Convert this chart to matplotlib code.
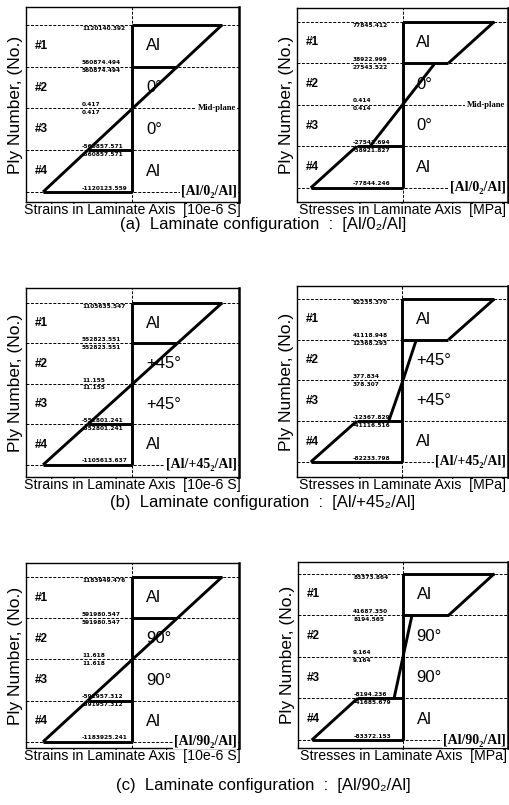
import matplotlib
matplotlib.use('Agg')
import matplotlib.pyplot as plt

plt.rcParams['font.family'] = ['Liberation Sans', 'DejaVu Sans']

# ---------------- data ----------------
ply_names = ['#1', '#2', '#3', '#4']
ply_bottom = [3, 2, 1, 0]          # ply #1 is on top

mats_a = ['Al', '0°', '0°', 'Al']
mats_b = ['Al', '+45°', '+45°', 'Al']
mats_c = ['Al', '90°', '90°', 'Al']

stack_a = '[Al/0₂/Al]'
stack_b = '[Al/+45₂/Al]'
stack_c = '[Al/90₂/Al]'

captions = ['(a)  Laminate configuration  :  [Al/0₂/Al]',
            '(b)  Laminate configuration  :  [Al/+45₂/Al]',
            '(c)  Laminate configuration  :  [Al/90₂/Al]']

# per ply (#1..#4): value at top / bottom of the ply
strain_a_top = [1120140.392, 560874.494, 0.417, -560857.571]
strain_a_bot = [560874.494, 0.417, -560857.571, -1120123.559]
stress_a_top = [77845.412, 27543.522, 0.414, -38921.827]
stress_a_bot = [38922.999, 0.414, -27542.694, -77844.246]

strain_b_top = [1105635.547, 552823.551, 11.155, -552801.241]
strain_b_bot = [552823.551, 11.155, -552801.241, -1105613.637]
stress_b_top = [82235.370, 12368.293, 378.307, -41116.516]
stress_b_bot = [41118.948, 377.834, -12367.829, -82233.798]

strain_c_top = [1183949.476, 591980.547, 11.618, -591957.312]
strain_c_bot = [591980.547, 11.618, -591957.312, -1183925.241]
stress_c_top = [83373.864, 8194.565, 9.164, -41685.679]
stress_c_bot = [41687.350, 9.164, -8194.236, -83372.153]

strain_label = 'Strains in Laminate Axis  [10e-6 S]'
stress_label = 'Stresses in Laminate Axis  [MPa]'
ylabel = 'Ply Number, (No.)'

# ---------------- figure ----------------
W, H = 510, 805
fig = plt.figure(figsize=(W / 100, H / 100), dpi=100)


def px_axes(x0, x1, y0, y1):
    return fig.add_axes([x0 / W, 1 - y1 / H, (x1 - x0) / W, (y1 - y0) / H])


SERIF = ['Liberation Serif', 'DejaVu Serif']


def panel(ax, top, bot, mats, stack, xlab, xfac, ylim, midplane):
    vmax = max(abs(v) for v in top + bot)
    ax.set_xlim(-vmax * xfac, vmax * xfac)
    ax.set_ylim(*ylim)
    ax.set_xticks([])
    ax.set_yticks([])
    for s in ax.spines.values():
        s.set_linewidth(1.0)
    ax.spines['right'].set_linewidth(1.8)

    dash = (0, (3, 1.6))
    for yb in [0, 1, 2, 3, 4]:
        ax.axhline(yb, color='k', lw=0.7, ls=dash, zorder=1)
    ax.axvline(0, color='k', lw=0.7, ls=dash, zorder=1)

    lw = 2.1
    for i in range(4):
        lo = ply_bottom[i]
        hi = lo + 1
        ax.plot([bot[i], top[i]], [lo, hi], color='k', lw=lw, zorder=3,
                solid_capstyle='butt')
        if mats[i] == 'Al':
            ax.plot([0, top[i]], [hi, hi], color='k', lw=lw, zorder=3,
                    solid_capstyle='butt')
            ax.plot([0, bot[i]], [lo, lo], color='k', lw=lw, zorder=3,
                    solid_capstyle='butt')
        # ply name
        ax.text(0.04, lo + 0.5, ply_names[i], transform=ax.get_yaxis_transform(),
                ha='left', va='center', fontsize=8.5, fontweight='bold', zorder=4)
        # material / orientation
        ax.text(0.565, lo + 0.5, mats[i], transform=ax.get_yaxis_transform(),
                ha='left', va='center', fontsize=12, zorder=4)
        # value labels
        ax.annotate(f'{top[i]:.3f}', xy=(0.263, hi), xycoords=('axes fraction', 'data'),
                    xytext=(0, -1.0), textcoords='offset points', ha='left', va='top',
                    fontsize=4.2, fontweight='bold', family='DejaVu Sans', zorder=2)
        ax.annotate(f'{bot[i]:.3f}', xy=(0.263, lo), xycoords=('axes fraction', 'data'),
                    xytext=(0, 1.0), textcoords='offset points', ha='left', va='bottom',
                    fontsize=4.2, fontweight='bold', family='DejaVu Sans', zorder=2)
    ax.plot([0, 0], [0, 4], color='k', lw=lw, zorder=3, solid_capstyle='butt')

    ax.text(0.99, 0, stack, transform=ax.get_yaxis_transform(), ha='right',
            va='center', fontsize=10, fontweight='bold', family=SERIF, zorder=5,
            bbox=dict(boxstyle='square,pad=0.08', fc='white', ec='none'))
    if midplane:
        ax.text(0.985, 2, 'Mid-plane', transform=ax.get_yaxis_transform(), ha='right',
                va='center', fontsize=6.2, fontweight='bold', family=SERIF, zorder=5,
                bbox=dict(boxstyle='square,pad=0.15', fc='white', ec='none'))

    ax.set_ylabel(ylabel, fontsize=12.5)
    ax.yaxis.set_label_coords(-0.012, 0.5)
    ax.text(0.5, -0.006, xlab, transform=ax.transAxes, ha='center', va='top',
            fontsize=10.2)


rows = [
    (strain_a_top, strain_a_bot, stress_a_top, stress_a_bot, mats_a, stack_a,
     (26, 239, 7, 202), (297, 508, 8, 202), (-0.24, 4.43), (-0.34, 4.33), True, 225),
    (strain_b_top, strain_b_bot, stress_b_top, stress_b_bot, mats_b, stack_b,
     (26, 239, 288, 477), (297, 508, 286, 477), (-0.30, 4.37), (-0.37, 4.32), False, 502),
    (strain_c_top, strain_c_bot, stress_c_top, stress_c_bot, mats_c, stack_c,
     (26, 239, 563, 748), (298, 508, 562, 748), (-0.15, 4.34), (-0.19, 4.28), False, 785),
]

for k, (st_t, st_b, ss_t, ss_b, mats, stack, boxL, boxR, ylL, ylR, mid, capy) in enumerate(rows):
    axL = px_axes(*boxL)
    panel(axL, st_t, st_b, mats, stack, strain_label, 1.19, ylL, mid)
    axR = px_axes(*boxR)
    panel(axR, ss_t, ss_b, mats, stack, stress_label, 1.15, ylR, mid)
    fig.text(263 / W, 1 - capy / H, captions[k], ha='center', va='center', fontsize=12)

fig.savefig('out.png', dpi=100, facecolor='white')
